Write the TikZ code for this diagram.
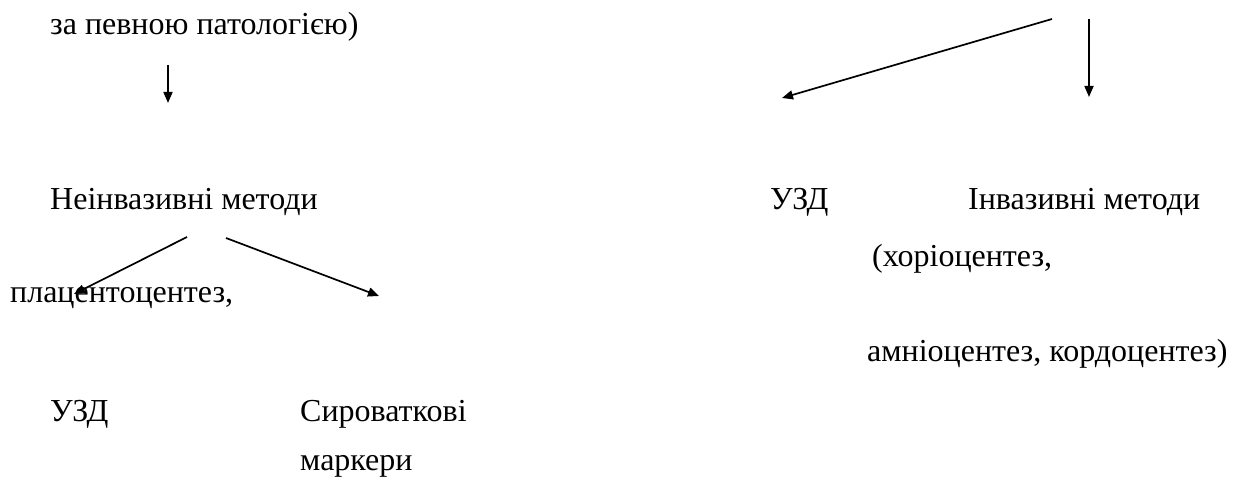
\documentclass[tikz,border=0pt]{standalone}
\usepackage{fontspec}
\setmainfont{Liberation Serif}
\usetikzlibrary{arrows.meta}
\begin{document}
\begin{tikzpicture}[x=1pt,y=-1pt,
  lbl/.style={anchor=base west,inner sep=0pt,font=\fontsize{32}{38}\selectfont},
  arr/.style={line width=1.7pt,-{Triangle[length=11pt,width=9pt]}}]
\useasboundingbox (0,0) rectangle (1254,486);
% left branch
\node[lbl] (top)  at (50,35)  {за певною патологією)};
\node[lbl] (nonin) at (50,210) {Неінвазивні методи};
\node[lbl] (plac) at (10,303) {плацентоцентез,};
\node[lbl] (uzdl) at (50,422) {УЗД};
\node[lbl] (ser1) at (300,422) {Сироваткові};
\node[lbl] (ser2) at (300,471) {маркери};
% right branch
\node[lbl] (uzdr) at (770,210) {УЗД};
\node[lbl] (inv1) at (968,210) {Інвазивні методи};
\node[lbl] (inv2) at (872,267) {(хоріоцентез,};
\node[lbl] (inv3) at (867,362) {амніоцентез, кордоцентез)};
% connector ends
\coordinate (a1) at (168,65);  \coordinate (a2) at (168,103);
\coordinate (b1) at (187,237); \coordinate (b2) at (74,294);
\coordinate (c1) at (226,238); \coordinate (c2) at (379,296);
\coordinate (d1) at (1052,19); \coordinate (d2) at (782,98);
\coordinate (e1) at (1089,19); \coordinate (e2) at (1089,97);
\draw[arr] (a1) -- (a2);
\draw[arr] (b1) -- (b2);
\draw[arr] (c1) -- (c2);
\draw[arr] (d1) -- (d2);
\draw[arr] (e1) -- (e2);
\end{tikzpicture}
\end{document}
